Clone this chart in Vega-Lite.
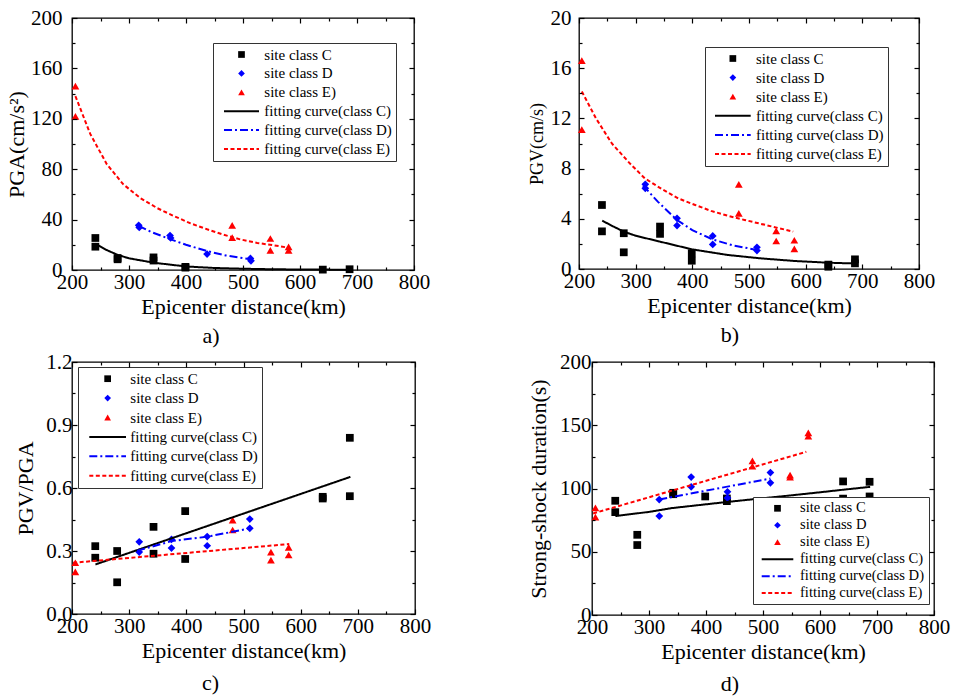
{
  "$schema": "https://vega.github.io/schema/vega-lite/v6.json",
  "background": "white",
  "padding": {"left": 4, "top": 6, "right": 0, "bottom": 0},
  "columns": 1,
  "align": "none",
  "spacing": 2,
  "resolve": {"scale": {"color": "independent", "shape": "independent", "stroke": "independent", "strokeDash": "independent"}, "legend": {"color": "independent", "shape": "independent", "stroke": "independent", "strokeDash": "independent"}},
  "config": {
    "font": "Liberation Serif",
    "axis": {"labelFont": "Liberation Serif", "titleFont": "Liberation Serif", "labelFontSize": 21, "titleFontSize": 22, "labelColor": "black", "titleColor": "black", "titleFontWeight": "normal", "grid": false, "domain": false, "tickColor": "black", "tickWidth": 1.2, "tickOpacity": 1, "labelFlush": false, "labelOverlap": false},
    "legend": {"labelFont": "Liberation Serif", "labelFontSize": 15, "labelColor": "black", "labelLimit": 400},
    "title": {"font": "Liberation Serif", "fontSize": 22, "fontWeight": "normal", "color": "black"}
  },
  "datasets": {
    "a_pts": [
      {"s": "site class C", "d": 241, "v": 25.4}, {"s": "site class C", "d": 241, "v": 18.5},
      {"s": "site class C", "d": 280, "v": 8.5}, {"s": "site class C", "d": 280, "v": 9.5},
      {"s": "site class C", "d": 343, "v": 10}, {"s": "site class C", "d": 343, "v": 7.5},
      {"s": "site class C", "d": 399, "v": 1.9}, {"s": "site class C", "d": 399, "v": 2.5},
      {"s": "site class C", "d": 640, "v": 0.3}, {"s": "site class C", "d": 687, "v": 0.6},
      {"s": "site class D", "d": 317, "v": 35.5}, {"s": "site class D", "d": 318, "v": 33.8},
      {"s": "site class D", "d": 372, "v": 27.3}, {"s": "site class D", "d": 373, "v": 25.4},
      {"s": "site class D", "d": 437, "v": 12.6}, {"s": "site class D", "d": 513, "v": 9.2},
      {"s": "site class D", "d": 514, "v": 7.3},
      {"s": "site class E)", "d": 206, "v": 146}, {"s": "site class E)", "d": 206, "v": 122},
      {"s": "site class E)", "d": 481, "v": 35.4}, {"s": "site class E)", "d": 481, "v": 25.7},
      {"s": "site class E)", "d": 548, "v": 25}, {"s": "site class E)", "d": 548, "v": 15.6},
      {"s": "site class E)", "d": 580, "v": 18.3}, {"s": "site class E)", "d": 580, "v": 15.6}
    ],
    "a_fit": [
      {"s": "fitting curve(class C)", "d": 241, "v": 21}, {"s": "fitting curve(class C)", "d": 260, "v": 16},
      {"s": "fitting curve(class C)", "d": 280, "v": 12}, {"s": "fitting curve(class C)", "d": 300, "v": 9.3},
      {"s": "fitting curve(class C)", "d": 343, "v": 5.8}, {"s": "fitting curve(class C)", "d": 400, "v": 2.8},
      {"s": "fitting curve(class C)", "d": 450, "v": 1.6}, {"s": "fitting curve(class C)", "d": 500, "v": 1.0},
      {"s": "fitting curve(class C)", "d": 550, "v": 0.6}, {"s": "fitting curve(class C)", "d": 600, "v": 0.4},
      {"s": "fitting curve(class C)", "d": 650, "v": 0.3}, {"s": "fitting curve(class C)", "d": 690, "v": 0.2},
      {"s": "fitting curve(class D)", "d": 317, "v": 35}, {"s": "fitting curve(class D)", "d": 340, "v": 30},
      {"s": "fitting curve(class D)", "d": 372, "v": 24.5}, {"s": "fitting curve(class D)", "d": 400, "v": 20},
      {"s": "fitting curve(class D)", "d": 437, "v": 15}, {"s": "fitting curve(class D)", "d": 470, "v": 11.5},
      {"s": "fitting curve(class D)", "d": 513, "v": 8.5},
      {"s": "fitting curve(class E)", "d": 206, "v": 138}, {"s": "fitting curve(class E)", "d": 232, "v": 108},
      {"s": "fitting curve(class E)", "d": 261, "v": 84}, {"s": "fitting curve(class E)", "d": 290, "v": 68},
      {"s": "fitting curve(class E)", "d": 320, "v": 57}, {"s": "fitting curve(class E)", "d": 350, "v": 49},
      {"s": "fitting curve(class E)", "d": 378, "v": 43}, {"s": "fitting curve(class E)", "d": 408, "v": 37},
      {"s": "fitting curve(class E)", "d": 437, "v": 32.3}, {"s": "fitting curve(class E)", "d": 466, "v": 28},
      {"s": "fitting curve(class E)", "d": 495, "v": 24.3}, {"s": "fitting curve(class E)", "d": 525, "v": 21.5},
      {"s": "fitting curve(class E)", "d": 554, "v": 19.6}, {"s": "fitting curve(class E)", "d": 580, "v": 17.7}
    ],
    "b_pts": [
      {"s": "site class C", "d": 240.5, "v": 5.1}, {"s": "site class C", "d": 240.5, "v": 3.0},
      {"s": "site class C", "d": 279, "v": 2.85}, {"s": "site class C", "d": 279, "v": 1.33},
      {"s": "site class C", "d": 343, "v": 3.38}, {"s": "site class C", "d": 343, "v": 2.8},
      {"s": "site class C", "d": 399, "v": 1.25}, {"s": "site class C", "d": 399, "v": 0.66},
      {"s": "site class C", "d": 640, "v": 0.35}, {"s": "site class C", "d": 640, "v": 0.18},
      {"s": "site class C", "d": 687, "v": 0.77}, {"s": "site class C", "d": 687, "v": 0.45},
      {"s": "site class D", "d": 317, "v": 6.75}, {"s": "site class D", "d": 317, "v": 6.43},
      {"s": "site class D", "d": 373, "v": 4.04}, {"s": "site class D", "d": 373, "v": 3.46},
      {"s": "site class D", "d": 436, "v": 2.63}, {"s": "site class D", "d": 436, "v": 1.96},
      {"s": "site class D", "d": 514, "v": 1.73}, {"s": "site class D", "d": 514, "v": 1.47},
      {"s": "site class E)", "d": 205, "v": 16.6}, {"s": "site class E)", "d": 205, "v": 11.1},
      {"s": "site class E)", "d": 482, "v": 6.75}, {"s": "site class E)", "d": 482, "v": 4.44},
      {"s": "site class E)", "d": 548, "v": 3.03}, {"s": "site class E)", "d": 548, "v": 2.23},
      {"s": "site class E)", "d": 580, "v": 2.29}, {"s": "site class E)", "d": 580, "v": 1.6}
    ],
    "b_fit": [
      {"s": "fitting curve(class C)", "d": 241, "v": 3.85}, {"s": "fitting curve(class C)", "d": 260, "v": 3.4},
      {"s": "fitting curve(class C)", "d": 279, "v": 2.98}, {"s": "fitting curve(class C)", "d": 300, "v": 2.65},
      {"s": "fitting curve(class C)", "d": 343, "v": 2.18}, {"s": "fitting curve(class C)", "d": 399, "v": 1.57},
      {"s": "fitting curve(class C)", "d": 462, "v": 1.12}, {"s": "fitting curve(class C)", "d": 520, "v": 0.85},
      {"s": "fitting curve(class C)", "d": 580, "v": 0.64}, {"s": "fitting curve(class C)", "d": 640, "v": 0.5},
      {"s": "fitting curve(class C)", "d": 686, "v": 0.44},
      {"s": "fitting curve(class D)", "d": 313, "v": 6.65}, {"s": "fitting curve(class D)", "d": 339, "v": 5.37},
      {"s": "fitting curve(class D)", "d": 373, "v": 3.9}, {"s": "fitting curve(class D)", "d": 400, "v": 3.1},
      {"s": "fitting curve(class D)", "d": 436, "v": 2.35}, {"s": "fitting curve(class D)", "d": 470, "v": 1.9},
      {"s": "fitting curve(class D)", "d": 514, "v": 1.52},
      {"s": "fitting curve(class E)", "d": 205, "v": 14.15}, {"s": "fitting curve(class E)", "d": 230, "v": 12.0},
      {"s": "fitting curve(class E)", "d": 258, "v": 10.0}, {"s": "fitting curve(class E)", "d": 290, "v": 8.4},
      {"s": "fitting curve(class E)", "d": 316, "v": 7.23}, {"s": "fitting curve(class E)", "d": 345, "v": 6.4},
      {"s": "fitting curve(class E)", "d": 375, "v": 5.63}, {"s": "fitting curve(class E)", "d": 405, "v": 5.1},
      {"s": "fitting curve(class E)", "d": 433, "v": 4.63}, {"s": "fitting curve(class E)", "d": 462, "v": 4.25},
      {"s": "fitting curve(class E)", "d": 492, "v": 3.91}, {"s": "fitting curve(class E)", "d": 530, "v": 3.5},
      {"s": "fitting curve(class E)", "d": 578, "v": 2.98}
    ],
    "c_pts": [
      {"s": "site class C", "d": 240.7, "v": 0.323}, {"s": "site class C", "d": 240.7, "v": 0.268},
      {"s": "site class C", "d": 279, "v": 0.30}, {"s": "site class C", "d": 279, "v": 0.151},
      {"s": "site class C", "d": 342.6, "v": 0.415}, {"s": "site class C", "d": 342.6, "v": 0.287},
      {"s": "site class C", "d": 398, "v": 0.49}, {"s": "site class C", "d": 398, "v": 0.262},
      {"s": "site class C", "d": 638.6, "v": 0.558}, {"s": "site class C", "d": 638.6, "v": 0.55},
      {"s": "site class C", "d": 686, "v": 0.839}, {"s": "site class C", "d": 686, "v": 0.561},
      {"s": "site class D", "d": 317.6, "v": 0.344}, {"s": "site class D", "d": 317.6, "v": 0.295},
      {"s": "site class D", "d": 374, "v": 0.355}, {"s": "site class D", "d": 374, "v": 0.314},
      {"s": "site class D", "d": 436.5, "v": 0.369}, {"s": "site class D", "d": 436.5, "v": 0.325},
      {"s": "site class D", "d": 511, "v": 0.452}, {"s": "site class D", "d": 511, "v": 0.408},
      {"s": "site class E)", "d": 205.8, "v": 0.244}, {"s": "site class E)", "d": 205.8, "v": 0.201},
      {"s": "site class E)", "d": 481, "v": 0.447}, {"s": "site class E)", "d": 481, "v": 0.40},
      {"s": "site class E)", "d": 548, "v": 0.295}, {"s": "site class E)", "d": 548, "v": 0.257},
      {"s": "site class E)", "d": 579, "v": 0.317}, {"s": "site class E)", "d": 579, "v": 0.281}
    ],
    "c_fit": [
      {"s": "fitting curve(class C)", "d": 241, "v": 0.236}, {"s": "fitting curve(class C)", "d": 687, "v": 0.653},
      {"s": "fitting curve(class D)", "d": 314, "v": 0.301}, {"s": "fitting curve(class D)", "d": 374, "v": 0.347},
      {"s": "fitting curve(class D)", "d": 436, "v": 0.368}, {"s": "fitting curve(class D)", "d": 512, "v": 0.408},
      {"s": "fitting curve(class E)", "d": 202, "v": 0.244}, {"s": "fitting curve(class E)", "d": 580, "v": 0.333}
    ],
    "d_pts": [
      {"s": "site class C", "d": 240.8, "v": 90.3}, {"s": "site class C", "d": 240.8, "v": 81.3},
      {"s": "site class C", "d": 279.4, "v": 63.4}, {"s": "site class C", "d": 279.4, "v": 55.3},
      {"s": "site class C", "d": 342.5, "v": 96.6}, {"s": "site class C", "d": 342.5, "v": 95.5},
      {"s": "site class C", "d": 398.6, "v": 93.7}, {"s": "site class C", "d": 436.6, "v": 92.1},
      {"s": "site class C", "d": 436.6, "v": 90}, {"s": "site class C", "d": 640.5, "v": 105.6},
      {"s": "site class C", "d": 640.5, "v": 92}, {"s": "site class C", "d": 687, "v": 105.3},
      {"s": "site class C", "d": 687, "v": 93.7},
      {"s": "site class D", "d": 318, "v": 91.3}, {"s": "site class D", "d": 318, "v": 78.2},
      {"s": "site class D", "d": 374, "v": 109}, {"s": "site class D", "d": 374, "v": 101.3},
      {"s": "site class D", "d": 437.7, "v": 97.4}, {"s": "site class D", "d": 437.7, "v": 92.5},
      {"s": "site class D", "d": 513, "v": 112.6}, {"s": "site class D", "d": 513, "v": 104.5},
      {"s": "site class E)", "d": 206, "v": 84.7}, {"s": "site class E)", "d": 206, "v": 77.4},
      {"s": "site class E)", "d": 481.4, "v": 121.9}, {"s": "site class E)", "d": 481.4, "v": 117.6},
      {"s": "site class E)", "d": 547.5, "v": 110.5}, {"s": "site class E)", "d": 547.5, "v": 109},
      {"s": "site class E)", "d": 579.5, "v": 144}, {"s": "site class E)", "d": 579.5, "v": 141.3}
    ],
    "d_fit": [
      {"s": "fitting curve(class C)", "d": 241, "v": 78.2}, {"s": "fitting curve(class C)", "d": 300, "v": 81.5},
      {"s": "fitting curve(class C)", "d": 340, "v": 84.5}, {"s": "fitting curve(class C)", "d": 400, "v": 87.5},
      {"s": "fitting curve(class C)", "d": 440, "v": 89.5}, {"s": "fitting curve(class C)", "d": 500, "v": 92.3},
      {"s": "fitting curve(class C)", "d": 550, "v": 94.6}, {"s": "fitting curve(class C)", "d": 600, "v": 97},
      {"s": "fitting curve(class C)", "d": 640, "v": 99}, {"s": "fitting curve(class C)", "d": 688, "v": 101.3},
      {"s": "fitting curve(class D)", "d": 318, "v": 91.3}, {"s": "fitting curve(class D)", "d": 513, "v": 107.9},
      {"s": "fitting curve(class E)", "d": 202, "v": 80.3}, {"s": "fitting curve(class E)", "d": 576, "v": 129}
    ]
  },
  "concat": [
    {
      "spacing": 96,
      "resolve": {"scale": {"color": "independent", "shape": "independent", "stroke": "independent", "strokeDash": "independent"}, "legend": {"color": "independent", "shape": "independent", "stroke": "independent", "strokeDash": "independent"}},
      "hconcat": [
        {
          "width": 342, "height": 252,
          "view": {"stroke": "black", "strokeWidth": 1.3},
          "title": {"text": "a)", "orient": "bottom", "frame": "group", "anchor": "middle", "dx": -32, "offset": 9},
          "layer": [
            {"data": {"name": "a_pts"}, "mark": {"type": "point", "filled": true, "opacity": 1, "size": 60},
             "encoding": {
               "x": {"field": "d", "type": "quantitative", "scale": {"domain": [200, 800], "nice": false, "zero": false}, "axis": {"orient": "bottom", "zindex": 1, "values": [200, 300, 400, 500, 600, 700, 800], "tickSize": -5, "labelPadding": 6, "title": "Epicenter distance(km)", "titlePadding": 4}},
               "y": {"field": "v", "type": "quantitative", "scale": {"domain": [0, 200], "nice": false}, "axis": {"orient": "left", "zindex": 1, "values": [0, 40, 80, 120, 160, 200], "tickSize": -5, "labelPadding": 15, "title": "PGA(cm/s²)", "titlePadding": 2}},
               "shape": {"field": "s", "type": "nominal", "scale": {"domain": ["site class C", "site class D", "site class E)", "fitting curve(class C)", "fitting curve(class D)", "fitting curve(class E)"], "range": ["square", "diamond", "triangle-up", "stroke", "stroke", "stroke"]}},
               "color": {"field": "s", "type": "nominal", "scale": {"domain": ["site class C", "site class D", "site class E)", "fitting curve(class C)", "fitting curve(class D)", "fitting curve(class E)"], "range": ["black", "#0000ff", "#ff0000", "black", "#0000ff", "#ff0000"]},
                 "legend": {"title": null, "orient": "none", "legendX": 141, "legendY": 25, "symbolSize": 45, "symbolOffset": 17, "labelOffset": 15.3, "symbolStrokeWidth": 0, "padding": 4, "rowPadding": 2.9, "labelFontSize": 15, "fillColor": "white", "strokeColor": "#333"}}
             }},
            {"data": {"name": "a_fit"}, "mark": {"type": "line", "strokeWidth": 2},
             "encoding": {
               "x": {"field": "d", "type": "quantitative", "scale": {"domain": [200, 800], "nice": false, "zero": false}, "axis": {"orient": "top", "zindex": 1, "values": [200, 300, 400, 500, 600, 700, 800], "tickSize": -5, "labels": false, "title": null}},
               "y": {"field": "v", "type": "quantitative", "scale": {"domain": [0, 200], "nice": false}, "axis": {"orient": "right", "zindex": 1, "values": [0, 40, 80, 120, 160, 200], "tickSize": -5, "labels": false, "title": null}},
               "stroke": {"field": "s", "type": "nominal", "scale": {"domain": ["site class C", "site class D", "site class E)", "fitting curve(class C)", "fitting curve(class D)", "fitting curve(class E)", " "], "range": ["transparent", "transparent", "transparent", "black", "#0000ff", "#ff0000", "transparent"]},
                 "legend": {"title": null, "orient": "none", "legendX": 141, "legendY": 25, "symbolType": "M-5.22,0H5.22", "symbolSize": 45, "symbolOffset": 17, "labelOffset": 15.3, "symbolStrokeWidth": 2, "padding": 4, "rowPadding": 2.9, "labelFontSize": 15, "labelColor": "transparent", "fillColor": "transparent", "strokeColor": "transparent"}},
               "strokeDash": {"field": "s", "type": "nominal", "scale": {"domain": ["site class C", "site class D", "site class E)", "fitting curve(class C)", "fitting curve(class D)", "fitting curve(class E)", " "], "range": [[1, 0], [1, 0], [1, 0], [1, 0], [8, 3, 2, 3], [4, 2.5], [1, 0]]}}
             }},
            {"data": {"name": "a_pts"}, "mark": {"type": "point", "opacity": 0},
             "encoding": {
               "x": {"field": "d", "type": "quantitative", "scale": {"domain": [200, 800], "nice": false, "zero": false}, "axis": {"orient": "bottom", "zindex": 1, "values": [250, 350, 450, 550, 650, 750], "tickSize": -3, "labels": false, "title": null}},
               "y": {"field": "v", "type": "quantitative", "scale": {"domain": [0, 200], "nice": false}, "axis": {"orient": "left", "zindex": 1, "values": [20, 60, 100, 140, 180], "tickSize": -3, "labels": false, "title": null}}
             }},
            {"data": {"name": "a_pts"}, "mark": {"type": "point", "opacity": 0},
             "encoding": {
               "x": {"field": "d", "type": "quantitative", "scale": {"domain": [200, 800], "nice": false, "zero": false}, "axis": {"orient": "top", "zindex": 1, "values": [250, 350, 450, 550, 650, 750], "tickSize": -3, "labels": false, "title": null}},
               "y": {"field": "v", "type": "quantitative", "scale": {"domain": [0, 200], "nice": false}, "axis": {"orient": "right", "zindex": 1, "values": [20, 60, 100, 140, 180], "tickSize": -3, "labels": false, "title": null}}
             }}
          ],
          "resolve": {"axis": {"x": "independent", "y": "independent"}}
        },
        {
          "width": 340, "height": 251,
          "view": {"stroke": "black", "strokeWidth": 1.3},
          "title": {"text": "b)", "orient": "bottom", "frame": "group", "anchor": "middle", "dx": -19, "offset": 9},
          "layer": [
            {"data": {"name": "b_pts"}, "mark": {"type": "point", "filled": true, "opacity": 1, "size": 60},
             "encoding": {
               "x": {"field": "d", "type": "quantitative", "scale": {"domain": [200, 800], "nice": false, "zero": false}, "axis": {"orient": "bottom", "zindex": 1, "values": [200, 300, 400, 500, 600, 700, 800], "tickSize": -5, "labelPadding": 6, "title": "Epicenter distance(km)", "titlePadding": 4}},
               "y": {"field": "v", "type": "quantitative", "scale": {"domain": [0, 20], "nice": false}, "axis": {"orient": "left", "zindex": 1, "values": [0, 4, 8, 12, 16, 20], "tickSize": -5, "labelPadding": 13, "title": "PGV(cm/s)", "titleFontSize": 18, "titlePadding": 4}},
               "shape": {"field": "s", "type": "nominal", "scale": {"domain": ["site class C", "site class D", "site class E)", "fitting curve(class C)", "fitting curve(class D)", "fitting curve(class E)"], "range": ["square", "diamond", "triangle-up", "stroke", "stroke", "stroke"]}},
               "color": {"field": "s", "type": "nominal", "scale": {"domain": ["site class C", "site class D", "site class E)", "fitting curve(class C)", "fitting curve(class D)", "fitting curve(class E)"], "range": ["black", "#0000ff", "#ff0000", "black", "#0000ff", "#ff0000"]},
                 "legend": {"title": null, "orient": "none", "legendX": 126, "legendY": 29, "symbolSize": 45, "symbolOffset": 16.35, "labelOffset": 15.65, "symbolStrokeWidth": 0, "padding": 4, "rowPadding": 3.1, "labelFontSize": 15, "fillColor": "white", "strokeColor": "#333"}}
             }},
            {"data": {"name": "b_fit"}, "mark": {"type": "line", "strokeWidth": 2},
             "encoding": {
               "x": {"field": "d", "type": "quantitative", "scale": {"domain": [200, 800], "nice": false, "zero": false}, "axis": {"orient": "top", "zindex": 1, "values": [200, 300, 400, 500, 600, 700, 800], "tickSize": -5, "labels": false, "title": null}},
               "y": {"field": "v", "type": "quantitative", "scale": {"domain": [0, 20], "nice": false}, "axis": {"orient": "right", "zindex": 1, "values": [0, 4, 8, 12, 16, 20], "tickSize": -5, "labels": false, "title": null}},
               "stroke": {"field": "s", "type": "nominal", "scale": {"domain": ["site class C", "site class D", "site class E)", "fitting curve(class C)", "fitting curve(class D)", "fitting curve(class E)", " "], "range": ["transparent", "transparent", "transparent", "black", "#0000ff", "#ff0000", "transparent"]},
                 "legend": {"title": null, "orient": "none", "legendX": 126, "legendY": 29, "symbolType": "M-5.32,0H5.32", "symbolSize": 45, "symbolOffset": 16.35, "labelOffset": 15.65, "symbolStrokeWidth": 2, "padding": 4, "rowPadding": 3.1, "labelFontSize": 15, "labelColor": "transparent", "fillColor": "transparent", "strokeColor": "transparent"}},
               "strokeDash": {"field": "s", "type": "nominal", "scale": {"domain": ["site class C", "site class D", "site class E)", "fitting curve(class C)", "fitting curve(class D)", "fitting curve(class E)", " "], "range": [[1, 0], [1, 0], [1, 0], [1, 0], [8, 3, 2, 3], [4, 2.5], [1, 0]]}}
             }},
            {"data": {"name": "b_pts"}, "mark": {"type": "point", "opacity": 0},
             "encoding": {
               "x": {"field": "d", "type": "quantitative", "scale": {"domain": [200, 800], "nice": false, "zero": false}, "axis": {"orient": "bottom", "zindex": 1, "values": [250, 350, 450, 550, 650, 750], "tickSize": -3, "labels": false, "title": null}},
               "y": {"field": "v", "type": "quantitative", "scale": {"domain": [0, 20], "nice": false}, "axis": {"orient": "left", "zindex": 1, "values": [2, 6, 10, 14, 18], "tickSize": -3, "labels": false, "title": null}}
             }},
            {"data": {"name": "b_pts"}, "mark": {"type": "point", "opacity": 0},
             "encoding": {
               "x": {"field": "d", "type": "quantitative", "scale": {"domain": [200, 800], "nice": false, "zero": false}, "axis": {"orient": "top", "zindex": 1, "values": [250, 350, 450, 550, 650, 750], "tickSize": -3, "labels": false, "title": null}},
               "y": {"field": "v", "type": "quantitative", "scale": {"domain": [0, 20], "nice": false}, "axis": {"orient": "right", "zindex": 1, "values": [2, 6, 10, 14, 18], "tickSize": -3, "labels": false, "title": null}}
             }}
          ],
          "resolve": {"axis": {"x": "independent", "y": "independent"}}
        }
      ]
    },
    {
      "spacing": 94,
      "resolve": {"scale": {"color": "independent", "shape": "independent", "stroke": "independent", "strokeDash": "independent"}, "legend": {"color": "independent", "shape": "independent", "stroke": "independent", "strokeDash": "independent"}},
      "hconcat": [
        {
          "width": 343, "height": 252,
          "view": {"stroke": "black", "strokeWidth": 1.3},
          "title": {"text": "c)", "orient": "bottom", "frame": "group", "anchor": "middle", "dx": -33, "offset": 12},
          "layer": [
            {"data": {"name": "c_pts"}, "mark": {"type": "point", "filled": true, "opacity": 1, "size": 60},
             "encoding": {
               "x": {"field": "d", "type": "quantitative", "scale": {"domain": [200, 800], "nice": false, "zero": false}, "axis": {"orient": "bottom", "zindex": 1, "values": [200, 300, 400, 500, 600, 700, 800], "tickSize": -5, "labelPadding": 6, "title": "Epicenter distance(km)", "titlePadding": 4}},
               "y": {"field": "v", "type": "quantitative", "scale": {"domain": [0, 1.2], "nice": false}, "axis": {"orient": "left", "zindex": 1, "values": [0, 0.3, 0.6, 0.9, 1.2], "format": ".1f", "tickSize": -5, "labelPadding": 5, "title": "PGV/PGA", "titlePadding": 8}},
               "shape": {"field": "s", "type": "nominal", "scale": {"domain": ["site class C", "site class D", "site class E)", "fitting curve(class C)", "fitting curve(class D)", "fitting curve(class E)"], "range": ["square", "diamond", "triangle-up", "stroke", "stroke", "stroke"]}},
               "color": {"field": "s", "type": "nominal", "scale": {"domain": ["site class C", "site class D", "site class E)", "fitting curve(class C)", "fitting curve(class D)", "fitting curve(class E)"], "range": ["black", "#0000ff", "#ff0000", "black", "#0000ff", "#ff0000"]},
                 "legend": {"title": null, "orient": "none", "legendX": 6, "legendY": 5, "symbolSize": 45, "symbolOffset": 17.95, "labelOffset": 15.15, "symbolStrokeWidth": 0, "padding": 4.2, "rowPadding": 3.4, "labelFontSize": 15, "fillColor": "white", "strokeColor": "#333"}}
             }},
            {"data": {"name": "c_fit"}, "mark": {"type": "line", "strokeWidth": 2},
             "encoding": {
               "x": {"field": "d", "type": "quantitative", "scale": {"domain": [200, 800], "nice": false, "zero": false}, "axis": {"orient": "top", "zindex": 1, "values": [200, 300, 400, 500, 600, 700, 800], "tickSize": -5, "labels": false, "title": null}},
               "y": {"field": "v", "type": "quantitative", "scale": {"domain": [0, 1.2], "nice": false}, "axis": {"orient": "right", "zindex": 1, "values": [0, 0.3, 0.6, 0.9, 1.2], "tickSize": -5, "labels": false, "title": null}},
               "stroke": {"field": "s", "type": "nominal", "scale": {"domain": ["site class C", "site class D", "site class E)", "fitting curve(class C)", "fitting curve(class D)", "fitting curve(class E)", " "], "range": ["transparent", "transparent", "transparent", "black", "#0000ff", "#ff0000", "transparent"]},
                 "legend": {"title": null, "orient": "none", "legendX": 6, "legendY": 5, "symbolType": "M-5.47,0H5.47", "symbolSize": 45, "symbolOffset": 17.95, "labelOffset": 15.15, "symbolStrokeWidth": 2, "padding": 4.2, "rowPadding": 3.4, "labelFontSize": 15, "labelColor": "transparent", "fillColor": "transparent", "strokeColor": "transparent"}},
               "strokeDash": {"field": "s", "type": "nominal", "scale": {"domain": ["site class C", "site class D", "site class E)", "fitting curve(class C)", "fitting curve(class D)", "fitting curve(class E)", " "], "range": [[1, 0], [1, 0], [1, 0], [1, 0], [8, 3, 2, 3], [4, 2.5], [1, 0]]}}
             }},
            {"data": {"name": "c_pts"}, "mark": {"type": "point", "opacity": 0},
             "encoding": {
               "x": {"field": "d", "type": "quantitative", "scale": {"domain": [200, 800], "nice": false, "zero": false}, "axis": {"orient": "bottom", "zindex": 1, "values": [250, 350, 450, 550, 650, 750], "tickSize": -3, "labels": false, "title": null}},
               "y": {"field": "v", "type": "quantitative", "scale": {"domain": [0, 1.2], "nice": false}, "axis": {"orient": "left", "zindex": 1, "values": [0.15, 0.45, 0.75, 1.05], "tickSize": -3, "labels": false, "title": null}}
             }},
            {"data": {"name": "c_pts"}, "mark": {"type": "point", "opacity": 0},
             "encoding": {
               "x": {"field": "d", "type": "quantitative", "scale": {"domain": [200, 800], "nice": false, "zero": false}, "axis": {"orient": "top", "zindex": 1, "values": [250, 350, 450, 550, 650, 750], "tickSize": -3, "labels": false, "title": null}},
               "y": {"field": "v", "type": "quantitative", "scale": {"domain": [0, 1.2], "nice": false}, "axis": {"orient": "right", "zindex": 1, "values": [0.15, 0.45, 0.75, 1.05], "tickSize": -3, "labels": false, "title": null}}
             }}
          ],
          "resolve": {"axis": {"x": "independent", "y": "independent"}}
        },
        {
          "width": 342, "height": 253,
          "view": {"stroke": "black", "strokeWidth": 1.3},
          "title": {"text": "d)", "orient": "bottom", "frame": "group", "anchor": "middle", "dx": -33, "offset": 12},
          "layer": [
            {"data": {"name": "d_pts"}, "mark": {"type": "point", "filled": true, "opacity": 1, "size": 60},
             "encoding": {
               "x": {"field": "d", "type": "quantitative", "scale": {"domain": [200, 800], "nice": false, "zero": false}, "axis": {"orient": "bottom", "zindex": 1, "values": [200, 300, 400, 500, 600, 700, 800], "tickSize": -5, "labelPadding": 6, "title": "Epicenter distance(km)", "titlePadding": 4}},
               "y": {"field": "v", "type": "quantitative", "scale": {"domain": [0, 200], "nice": false}, "axis": {"orient": "left", "zindex": 1, "values": [0, 50, 100, 150, 200], "tickSize": -5, "labelPadding": 6, "title": "Strong-shock duration(s)", "titleFontSize": 22, "titlePadding": 9}},
               "shape": {"field": "s", "type": "nominal", "scale": {"domain": ["site class C", "site class D", "site class E)", "fitting curve(class C)", "fitting curve(class D)", "fitting curve(class E)"], "range": ["square", "diamond", "triangle-up", "stroke", "stroke", "stroke"]}},
               "color": {"field": "s", "type": "nominal", "scale": {"domain": ["site class C", "site class D", "site class E)", "fitting curve(class C)", "fitting curve(class D)", "fitting curve(class E)"], "range": ["black", "#0000ff", "#ff0000", "black", "#0000ff", "#ff0000"]},
                 "legend": {"title": null, "orient": "none", "legendX": 161, "legendY": 135, "symbolSize": 45, "symbolOffset": 13.2, "labelOffset": 15.2, "symbolStrokeWidth": 0, "padding": 4, "rowPadding": 1.96, "labelFontSize": 14.6, "fillColor": "white", "strokeColor": "#333"}}
             }},
            {"data": {"name": "d_fit"}, "mark": {"type": "line", "strokeWidth": 2},
             "encoding": {
               "x": {"field": "d", "type": "quantitative", "scale": {"domain": [200, 800], "nice": false, "zero": false}, "axis": {"orient": "top", "zindex": 1, "values": [200, 300, 400, 500, 600, 700, 800], "tickSize": -5, "labels": false, "title": null}},
               "y": {"field": "v", "type": "quantitative", "scale": {"domain": [0, 200], "nice": false}, "axis": {"orient": "right", "zindex": 1, "values": [0, 50, 100, 150, 200], "tickSize": -5, "labels": false, "title": null}},
               "stroke": {"field": "s", "type": "nominal", "scale": {"domain": ["site class C", "site class D", "site class E)", "fitting curve(class C)", "fitting curve(class D)", "fitting curve(class E)", " "], "range": ["transparent", "transparent", "transparent", "black", "#0000ff", "#ff0000", "transparent"]},
                 "legend": {"title": null, "orient": "none", "legendX": 161, "legendY": 135, "symbolType": "M-4.71,0H4.71", "symbolSize": 45, "symbolOffset": 13.2, "labelOffset": 15.2, "symbolStrokeWidth": 2, "padding": 4, "rowPadding": 1.96, "labelFontSize": 14.6, "labelColor": "transparent", "fillColor": "transparent", "strokeColor": "transparent"}},
               "strokeDash": {"field": "s", "type": "nominal", "scale": {"domain": ["site class C", "site class D", "site class E)", "fitting curve(class C)", "fitting curve(class D)", "fitting curve(class E)", " "], "range": [[1, 0], [1, 0], [1, 0], [1, 0], [8, 3, 2, 3], [4, 2.5], [1, 0]]}}
             }},
            {"data": {"name": "d_pts"}, "mark": {"type": "point", "opacity": 0},
             "encoding": {
               "x": {"field": "d", "type": "quantitative", "scale": {"domain": [200, 800], "nice": false, "zero": false}, "axis": {"orient": "bottom", "zindex": 1, "values": [250, 350, 450, 550, 650, 750], "tickSize": -3, "labels": false, "title": null}},
               "y": {"field": "v", "type": "quantitative", "scale": {"domain": [0, 200], "nice": false}, "axis": {"orient": "left", "zindex": 1, "values": [25, 75, 125, 175], "tickSize": -3, "labels": false, "title": null}}
             }},
            {"data": {"name": "d_pts"}, "mark": {"type": "point", "opacity": 0},
             "encoding": {
               "x": {"field": "d", "type": "quantitative", "scale": {"domain": [200, 800], "nice": false, "zero": false}, "axis": {"orient": "top", "zindex": 1, "values": [250, 350, 450, 550, 650, 750], "tickSize": -3, "labels": false, "title": null}},
               "y": {"field": "v", "type": "quantitative", "scale": {"domain": [0, 200], "nice": false}, "axis": {"orient": "right", "zindex": 1, "values": [25, 75, 125, 175], "tickSize": -3, "labels": false, "title": null}}
             }}
          ],
          "resolve": {"axis": {"x": "independent", "y": "independent"}}
        }
      ]
    }
  ]
}
